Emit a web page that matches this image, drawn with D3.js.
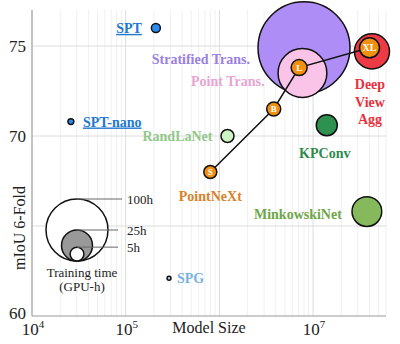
<!DOCTYPE html>
<html>
<head>
<meta charset="utf-8">
<script src="https://cdn.jsdelivr.net/npm/d3@7"></script>
<style>
  body { margin: 0; background: #fff; }
</style>
</head>
<body>
<svg id="chart" width="400" height="344" font-family="'Liberation Serif', 'Times New Roman', Times, serif"></svg>
<script>
// Methods: model size (params), mIoU 6-fold, training time (GPU-h)
const methods = ["Stratified Trans.", "Point Trans.", "Deep View Agg", "RandLaNet", "KPConv", "MinkowskiNet", "SPT", "SPT-nano", "SPG"];
const modelSize = [8.0e6, 7.7e6, 4.25e7, 1.22e6, 1.4e7, 3.75e7, 2.1e5, 2.6e4, 2.9e5];
const miou = [74.9, 73.5, 74.7, 70.0, 70.6, 65.8, 76.0, 70.8, 62.1];
const gpuHours = [220, 62, 32, 4.4, 11.5, 23, 2.1, 0.9, 0.4];

// PointNeXt family, drawn as a connected line
const pnVariants = ["S", "B", "L", "XL"];
const pnSize = [8.0e5, 3.8e6, 7.1e6, 4.0e7];
const pnMiou = [68.0, 71.5, 73.8, 74.9];
const pnHours = [4.4, 5.1, 6.7, 10.4];

// legend sizes
const legendHours = [100, 25, 5];
const xTicks = [1e4, 1e5, 1e7];
const yTicks = [60, 70, 75];

const colors = {
  "Stratified Trans.": { fill: "#ae8ef6", text: "#9a80e2" },
  "Point Trans.": { fill: "#f9c4e8", text: "#e6a5d2" },
  "Deep View Agg": { fill: "#ee3a45", text: "#e8333d" },
  "RandLaNet": { fill: "#cdf5c4", text: "#92c889" },
  "KPConv": { fill: "#2f9150", text: "#2e8a4a" },
  "MinkowskiNet": { fill: "#86b95b", text: "#6ea64a" },
  "SPT": { fill: "#2b8cf0", text: "#2378d0" },
  "SPT-nano": { fill: "#2b8cf0", text: "#2378d0" },
  "SPG": { fill: "#b4cce4", text: "#7ab2df" }
};
const pnColor = { fill: "#f0900f", text: "#d7822b" };

// label offsets from the point centre
const labelPos = {
  "Stratified Trans.": { dx: -54, dy: 11, anchor: "end" },
  "Point Trans.": { dx: -38, dy: 8, anchor: "end" },
  "Deep View Agg": { dx: -2, dy: 33, anchor: "middle" },
  "RandLaNet": { dx: -15, dy: 0, anchor: "end" },
  "KPConv": { dx: -2, dy: 28, anchor: "middle" },
  "MinkowskiNet": { dx: -25, dy: 2, anchor: "end" },
  "SPT": { dx: -14, dy: 0, anchor: "end" },
  "SPT-nano": { dx: 12, dy: 0, anchor: "start" },
  "SPG": { dx: 8, dy: 0, anchor: "start" }
};

const svg = d3.select("#chart");
const margin = { left: 32, right: 14, top: 10, bottom: 28 };
const W = +svg.attr("width"), H = +svg.attr("height");

const x = d3.scaleLog().domain([1e4, 6e7]).range([margin.left, W - margin.right]);
const y = d3.scaleLinear().domain([60, 77]).range([H - margin.bottom, margin.top]);
const r = d3.scaleSqrt().domain([0, 100]).range([0, 31]);

// minor + major vertical grid
const minor = [];
for (let e = 4; e <= 7; e++) {
  for (let m = 1; m <= 9; m++) {
    const v = m * Math.pow(10, e);
    if (v <= 6e7) minor.push(v);
  }
}
svg.append("g")
  .selectAll("line")
  .data(minor)
  .join("line")
  .attr("x1", d => x(d)).attr("x2", d => x(d))
  .attr("y1", y(77)).attr("y2", y(60))
  .attr("stroke", d => (Math.log10(d) % 1 === 0 ? "#dcdcdc" : "#f0f0f0"))
  .attr("stroke-width", 1);

// horizontal grid at major values
svg.append("g")
  .selectAll("line")
  .data([65, 70, 75])
  .join("line")
  .attr("x1", x(1e4)).attr("x2", x(6e7))
  .attr("y1", d => y(d)).attr("y2", d => y(d))
  .attr("stroke", "#dcdcdc");

// axis lines
svg.append("line")
  .attr("x1", x(1e4)).attr("x2", x(1e4))
  .attr("y1", y(77)).attr("y2", y(60))
  .attr("stroke", "#999");
svg.append("line")
  .attr("x1", x(1e4)).attr("x2", x(6e7))
  .attr("y1", y(60)).attr("y2", y(60))
  .attr("stroke", "#999");

// y tick labels
svg.append("g")
  .selectAll("text")
  .data(yTicks)
  .join("text")
  .attr("x", x(1e4) - 6)
  .attr("y", d => y(d) - (d === 60 ? 3 : 0))
  .attr("dy", "0.35em")
  .attr("text-anchor", "end")
  .attr("font-size", 17)
  .attr("fill", "#222")
  .text(d => d);

// x tick labels, 10 with superscript exponent
const xt = svg.append("g")
  .selectAll("text")
  .data(xTicks)
  .join("text")
  .attr("x", d => x(d) + 1)
  .attr("y", H - 9)
  .attr("text-anchor", "middle")
  .attr("font-size", 17)
  .attr("fill", "#222");
xt.append("tspan").text("10");
xt.append("tspan")
  .attr("dy", -7)
  .attr("font-size", 11)
  .text(d => Math.round(Math.log10(d)));

// axis titles
svg.append("text")
  .attr("x", 209).attr("y", H - 11)
  .attr("text-anchor", "middle")
  .attr("font-size", 16)
  .attr("fill", "#222")
  .text("Model Size");
svg.append("text")
  .attr("transform", "translate(19,228) rotate(-90)")
  .attr("dy", "0.35em")
  .attr("text-anchor", "middle")
  .attr("font-size", 16)
  .attr("fill", "#222")
  .text("mIoU 6-Fold");

// legend: nested bubbles sharing a bottom point
const legX = 77, legBottom = 261;
const legend = svg.append("g");
legend.selectAll("circle")
  .data(legendHours)
  .join("circle")
  .attr("cx", legX)
  .attr("cy", d => legBottom - r(d))
  .attr("r", d => r(d))
  .attr("fill", (d, i) => (i === 1 ? "#999" : "#fff"))
  .attr("stroke", "#111")
  .attr("stroke-width", 1.5);
legend.selectAll("line")
  .data(legendHours)
  .join("line")
  .attr("x1", legX)
  .attr("x2", (d, i) => (i === 0 ? 122 : 118))
  .attr("y1", d => legBottom - 2 * r(d))
  .attr("y2", d => legBottom - 2 * r(d))
  .attr("stroke", "#666")
  .attr("stroke-width", 1);
legend.selectAll("text.lab")
  .data(legendHours)
  .join("text")
  .attr("class", "lab")
  .attr("x", 127)
  .attr("y", d => legBottom - 2 * r(d))
  .attr("dy", "0.35em")
  .attr("font-size", 13)
  .attr("fill", "#222")
  .text(d => d + "h");
legend.append("text")
  .attr("x", legX + 5).attr("y", 277)
  .attr("text-anchor", "middle")
  .attr("font-size", 13)
  .attr("fill", "#222")
  .text("Training time");
legend.append("text")
  .attr("x", legX + 5).attr("y", 291)
  .attr("text-anchor", "middle")
  .attr("font-size", 13)
  .attr("fill", "#222")
  .text("(GPU-h)");

// method bubbles
const pts = methods.map((m, i) => ({ name: m, size: modelSize[i], miou: miou[i], hours: gpuHours[i] }));
svg.append("g")
  .selectAll("circle")
  .data(pts)
  .join("circle")
  .attr("cx", d => x(d.size))
  .attr("cy", d => y(d.miou))
  .attr("r", d => r(d.hours))
  .attr("fill", d => colors[d.name].fill)
  .attr("stroke", "#111")
  .attr("stroke-width", 1.5);

// method labels
svg.append("g")
  .selectAll("text")
  .data(pts)
  .join("text")
  .attr("x", d => x(d.size) + labelPos[d.name].dx)
  .attr("y", d => y(d.miou) + labelPos[d.name].dy)
  .attr("text-anchor", d => labelPos[d.name].anchor)
  .attr("font-size", 14)
  .attr("font-weight", "bold")
  .attr("fill", d => colors[d.name].text)
  .attr("text-decoration", d => (d.name.startsWith("SPT") ? "underline" : null))
  .each(function (d) {
    const t = d3.select(this);
    const lines = d.name === "Deep View Agg" ? ["Deep", "View", "Agg"] : [d.name];
    lines.forEach((s, k) => {
      t.append("tspan")
        .attr("x", x(d.size) + labelPos[d.name].dx)
        .attr("dy", k === 0 ? "0.35em" : 17.5)
        .text(s);
    });
  });

// PointNeXt line and variant bubbles
const pn = pnVariants.map((v, i) => ({ v, size: pnSize[i], miou: pnMiou[i], hours: pnHours[i] }));
svg.append("path")
  .datum(pn)
  .attr("d", d3.line().x(d => x(d.size)).y(d => y(d.miou)))
  .attr("fill", "none")
  .attr("stroke", "#111")
  .attr("stroke-width", 1.5);
const pnG = svg.append("g")
  .selectAll("g")
  .data(pn)
  .join("g")
  .attr("transform", d => `translate(${x(d.size)},${y(d.miou)})`);
pnG.append("circle")
  .attr("r", d => r(d.hours))
  .attr("fill", pnColor.fill)
  .attr("stroke", "#111")
  .attr("stroke-width", 1.5);
pnG.append("text")
  .attr("text-anchor", "middle")
  .attr("dy", "0.35em")
  .attr("font-size", d => (d.v === "XL" ? 10 : 9))
  .attr("font-weight", "bold")
  .attr("fill", "#fff")
  .text(d => d.v);
svg.append("text")
  .attr("x", x(pnSize[0]))
  .attr("y", y(pnMiou[0]) + 24)
  .attr("dy", "0.35em")
  .attr("text-anchor", "middle")
  .attr("font-size", 14)
  .attr("font-weight", "bold")
  .attr("fill", pnColor.text)
  .text("PointNeXt");
</script>
</body>
</html>
